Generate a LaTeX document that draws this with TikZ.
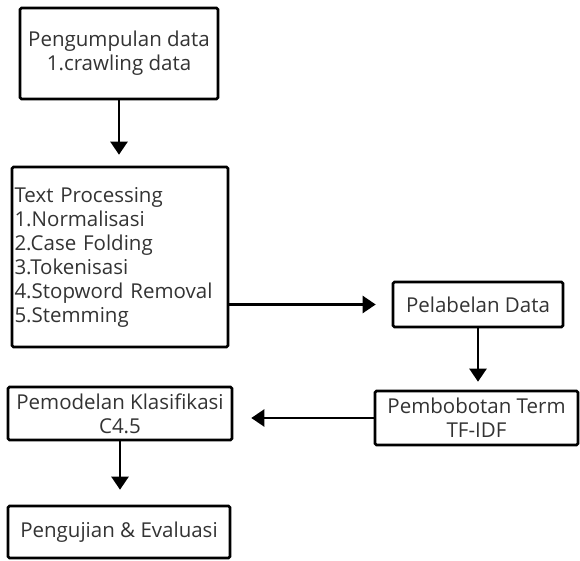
\documentclass[tikz,border=0pt]{standalone}
\usepackage{fontspec}
\setmainfont{Open Sans}
\usepackage{tikz}
\usetikzlibrary{arrows.meta,positioning,calc}

\tikzset{
  kotak/.style={draw,line width=2.6pt,rounded corners=1.5pt,inner sep=2pt,
    text=black!80,font=\fontsize{20.5}{24}\selectfont,align=center},
  panah/.style={->,line width=2.3pt},
  >={Triangle[width=17pt,length=13pt]}
}

\begin{document}
\begin{tikzpicture}[x=1pt,y=-1pt]
\useasboundingbox (0,0) rectangle (580,561);
\node[kotak,minimum width=198pt,minimum height=91pt] (kumpul) at (119,53.5) {Pengumpulan data\\1.crawling data};
\node[kotak,minimum width=216pt,minimum height=180pt,text width=211pt,align=left] (proses) at (120,257) {Text Processing\\1.Normalisasi\\2.Case Folding\\3.Tokenisasi\\4.Stopword Removal\\5.Stemming};
\node[kotak,minimum width=170pt,minimum height=45pt] (label) at (478,304.5) {Pelabelan Data};
\node[kotak,minimum width=203pt,minimum height=54pt] (bobot) at (476.5,418) {Pembobotan Term\\TF-IDF};
\node[kotak,minimum width=224pt,minimum height=53pt] (model) at (120,413.5) {Pemodelan Klasifikasi\\C4.5};
\node[kotak,minimum width=222pt,minimum height=52pt] (uji) at (119,532) {Pengujian \& Evaluasi};
% panah
\draw [panah,shorten >=11pt] (kumpul.south) -- (kumpul.south |- proses.north);
\draw [panah,shorten >=16pt] (proses.east |- label.west) -- (label.west);
\draw [panah,shorten >=8pt] (label.south) -- (label.south |- bobot.north);
\draw [panah,shorten >=18pt] (bobot.west) -- (model.east |- bobot.west);
\draw [panah,shorten >=15pt] (model.south) -- (model.south |- uji.north);
\end{tikzpicture}
\end{document}
